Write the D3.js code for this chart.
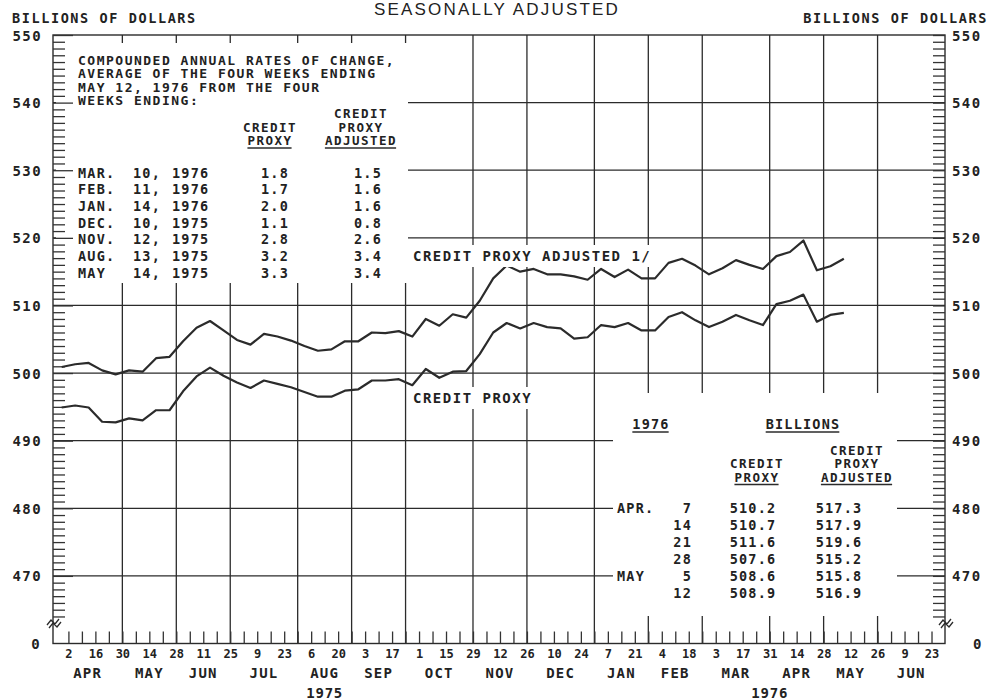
<!DOCTYPE html>
<html>
<head>
<meta charset="utf-8">
<title>Credit proxy</title>
<script src="https://cdn.jsdelivr.net/npm/d3@7"></script>
<style>
  body { margin: 0; background: #fff; }
  svg text { font-family: "DejaVu Sans Mono", monospace; font-weight: bold; fill: #222; }
  .tk line { stroke: #333; stroke-width: 1.3; }
</style>
</head>
<body>
<svg id="chart" width="992" height="700"></svg>
<script>
// weekly averages, week ending Wednesday
var weekEnding = ["1975-04-02","1975-04-09","1975-04-16","1975-04-23","1975-04-30","1975-05-07","1975-05-14",
  "1975-05-21","1975-05-28","1975-06-04","1975-06-11","1975-06-18","1975-06-25","1975-07-02","1975-07-09",
  "1975-07-16","1975-07-23","1975-07-30","1975-08-06","1975-08-13","1975-08-20","1975-08-27","1975-09-03",
  "1975-09-10","1975-09-17","1975-09-24","1975-10-01","1975-10-08","1975-10-15","1975-10-22","1975-10-29",
  "1975-11-05","1975-11-12","1975-11-19","1975-11-26","1975-12-03","1975-12-10","1975-12-17","1975-12-24",
  "1975-12-31","1976-01-07","1976-01-14","1976-01-21","1976-01-28","1976-02-04","1976-02-11","1976-02-18",
  "1976-02-25","1976-03-03","1976-03-10","1976-03-17","1976-03-24","1976-03-31","1976-04-07","1976-04-14",
  "1976-04-21","1976-04-28","1976-05-05","1976-05-12"];

var creditProxy = [494.9, 495.2, 494.9, 492.8, 492.7, 493.3, 493.0, 494.5, 494.5, 497.3,
  499.5, 500.8, 499.6, 498.6, 497.8, 498.9, 498.4, 497.9, 497.2, 496.5,
  496.5, 497.4, 497.6, 498.9, 498.9, 499.1, 498.2, 500.6, 499.3, 500.2,
  500.3, 502.8, 506.0, 507.4, 506.6, 507.4, 506.8, 506.6, 505.1, 505.3,
  507.1, 506.8, 507.4, 506.3, 506.3, 508.3, 509.0, 507.8, 506.8, 507.6,
  508.6, 507.8, 507.1, 510.2, 510.7, 511.6, 507.6, 508.6, 508.9];

var creditProxyAdjusted = [500.9, 501.3, 501.5, 500.4, 499.8, 500.4, 500.2, 502.2, 502.4, 504.7,
  506.7, 507.7, 506.3, 504.9, 504.2, 505.8, 505.4, 504.8, 504.0, 503.3,
  503.5, 504.7, 504.7, 506.0, 505.9, 506.2, 505.4, 508.0, 507.0, 508.7,
  508.2, 510.7, 514.0, 515.9, 515.0, 515.4, 514.6, 514.6, 514.3, 513.8,
  515.4, 514.2, 515.3, 514.0, 514.0, 516.3, 516.9, 515.9, 514.6, 515.5,
  516.7, 516.0, 515.4, 517.3, 517.9, 519.6, 515.2, 515.8, 516.9];

// month boundaries (last Wednesday of each month) and month names
var monthEnds = ["1975-04-30","1975-05-28","1975-06-25","1975-07-30","1975-08-27","1975-09-24","1975-10-29",
  "1975-11-26","1975-12-31","1976-01-28","1976-02-25","1976-03-31","1976-04-28","1976-05-26"];
var monthNames = ["APR","MAY","JUN","JUL","AUG","SEP","OCT","NOV","DEC","JAN","FEB","MAR","APR","MAY","JUN"];
var years = ["1975", "1976"];
var yearAt = ["1975-08-13", "1976-03-31"];

// y axis tick labels
var yLabelValues = [460, 470, 480, 490, 500, 510, 520, 530, 540, 550];

// upper-left table: annual rates of change
var rateNote = ["COMPOUNDED ANNUAL RATES OF CHANGE,", "AVERAGE OF THE FOUR WEEKS ENDING",
  "MAY 12, 1976 FROM THE FOUR", "WEEKS ENDING:"];
var rateMonths = ["MAR.", "FEB.", "JAN.", "DEC.", "NOV.", "AUG.", "MAY"];
var rateDays = ["10,", "11,", "14,", "10,", "12,", "13,", "14,"];
var rateYears = ["1976", "1976", "1976", "1975", "1975", "1975", "1975"];
var rateProxy = ["1.8", "1.7", "2.0", "1.1", "2.8", "3.2", "3.3"];
var rateAdjusted = ["1.5", "1.6", "1.6", "0.8", "2.6", "3.4", "3.4"];

// lower-right table: levels, billions
var levelMonths = ["APR.", "", "", "", "MAY", ""];
var levelDays = ["7", "14", "21", "28", "5", "12"];
var levelProxy = ["510.2", "510.7", "511.6", "507.6", "508.6", "508.9"];
var levelAdjusted = ["517.3", "517.9", "519.6", "515.2", "515.8", "516.9"];

var svg = d3.select("#chart");
var parse = d3.timeParse("%Y-%m-%d");
var plotL = 53, plotR = 945, plotT = 35, plotB = 643.5;
var ink = "#2b2b2b";

var x = d3.scaleTime().domain([parse("1975-03-25"), parse("1976-06-30")]).range([plotL, plotR]);
var y = d3.scaleLinear().domain([460, 550]).range([plotB, plotT]);

// weekly averages are plotted in the middle of their week
function midWeek(d) { return new Date(d.getTime() - 3.5 * 864e5); }

svg.append("rect").attr("width", 992).attr("height", 700).attr("fill", "#fff");

// grid
var grid = svg.append("g").attr("stroke", ink).attr("stroke-width", 1.3);
grid.selectAll(".h").data(d3.range(470, 550, 10)).join("line")
  .attr("x1", plotL).attr("x2", plotR)
  .attr("y1", function(d) { return y(d); }).attr("y2", function(d) { return y(d); });
grid.selectAll(".v").data(monthEnds).join("line")
  .attr("x1", function(d) { return x(parse(d)); }).attr("x2", function(d) { return x(parse(d)); })
  .attr("y1", plotT).attr("y2", plotB);

// blank areas behind the tables
var knock = svg.append("g").attr("fill", "#fff");
knock.append("rect").attr("x", 56).attr("y", 43).attr("width", 408 - 56).attr("height", 283 - 43);
knock.append("rect").attr("x", 613).attr("y", 393).attr("width", 897 - 613).attr("height", 616 - 393);

// frame
svg.append("rect").attr("x", plotL).attr("y", plotT).attr("width", plotR - plotL).attr("height", plotB - plotT)
  .attr("fill", "none").attr("stroke", ink).attr("stroke-width", 1.4);

// y ticks, inside on both sides
var minorValues = d3.range(464, 551);
svg.append("g").attr("class", "tk").attr("transform", "translate(" + plotL + ",0)")
  .call(d3.axisRight(y).tickValues(minorValues).tickSize(12).tickFormat(""))
  .call(function(g) { g.select(".domain").remove(); })
  .call(function(g) { g.selectAll(".tick line").attr("x2", function(d) { return d % 10 === 0 ? 20 : 12; }); });
svg.append("g").attr("class", "tk").attr("transform", "translate(" + plotR + ",0)")
  .call(d3.axisLeft(y).tickValues(minorValues).tickSize(12).tickFormat(""))
  .call(function(g) { g.select(".domain").remove(); });

// y labels
svg.append("g").attr("transform", "translate(" + plotL + ",0)")
  .call(d3.axisLeft(y).tickValues(yLabelValues).tickSize(0).tickPadding(11)
    .tickFormat(function(d) { return d === 460 ? "0" : d; }))
  .call(function(g) { g.select(".domain").remove(); })
  .call(function(g) {
    g.selectAll("text").attr("dy", "0.36em").style("font-size", "14px").style("letter-spacing", "1.4px");
    g.selectAll(".tick").filter(function(d) { return d === 460; }).select("text").attr("x", -12);
  });
svg.append("g").attr("transform", "translate(" + plotR + ",0)")
  .call(d3.axisRight(y).tickValues(yLabelValues).tickSize(0).tickPadding(7)
    .tickFormat(function(d) { return d === 460 ? "0" : d; }))
  .call(function(g) { g.select(".domain").remove(); })
  .call(function(g) {
    g.selectAll("text").attr("dy", "0.36em").style("font-size", "14px").style("letter-spacing", "1.4px");
    g.selectAll(".tick").filter(function(d) { return d === 460; }).select("text").attr("x", 28);
  });

// axis break marks
[plotL, plotR].forEach(function(ax) {
  svg.append("path")
    .attr("d", "M" + (ax - 6) + ",625 l4,-5 l4,4 l4,-5 M" + (ax - 4) + ",628 l4,-5 l4,4 l4,-5")
    .attr("fill", "none").attr("stroke", ink).attr("stroke-width", 1.3);
});

// weekly ticks on the time axis
var weeks = d3.timeWednesday.range(parse("1975-04-01"), parse("1976-06-24"));
svg.append("g").attr("class", "tk").attr("transform", "translate(0," + plotB + ")")
  .call(d3.axisTop(x).tickValues(weeks).tickSize(12).tickFormat(""))
  .call(function(g) { g.select(".domain").remove(); });

svg.append("g").attr("transform", "translate(0," + plotB + ")")
  .call(d3.axisBottom(x).tickValues(weeks.filter(function(d, i) { return i % 2 === 0; }))
    .tickSize(0).tickPadding(6).tickFormat(d3.timeFormat("%-d")))
  .call(function(g) { g.select(".domain").remove(); })
  .call(function(g) { g.selectAll("text").style("font-size", "12px"); });

// month names centred in their month
var bounds = [x.domain()[0]].concat(monthEnds.map(parse), [x.domain()[1]]);
svg.append("g").selectAll("text").data(monthNames).join("text")
  .attr("x", function(d, i) { return (x(bounds[i]) + x(bounds[i + 1])) / 2; })
  .attr("y", 678).attr("text-anchor", "middle")
  .style("font-size", "14px").style("letter-spacing", "1.2px")
  .text(function(d) { return d; });
svg.append("g").selectAll("text").data(years).join("text")
  .attr("x", function(d, i) { return x(parse(yearAt[i])); })
  .attr("y", 698).attr("text-anchor", "middle")
  .style("font-size", "14px").style("letter-spacing", "0.8px")
  .text(function(d) { return d; });

// data lines
var line = d3.line()
  .x(function(d) { return x(midWeek(d.date)); })
  .y(function(d) { return y(d.value); });
[creditProxy, creditProxyAdjusted].forEach(function(series) {
  var pts = series.map(function(v, i) { return { date: parse(weekEnding[i]), value: v }; });
  svg.append("path").datum(pts).attr("d", line)
    .attr("fill", "none").attr("stroke", ink).attr("stroke-width", 2.2)
    .attr("stroke-linejoin", "round");
});

// text helper
function txt(str, px, py, anchor, size, spacing, underline) {
  var t = svg.append("text").attr("x", px).attr("y", py).attr("text-anchor", anchor || "start")
    .style("font-size", (size || 13.5) + "px").style("letter-spacing", (spacing == null ? 1.2 : spacing) + "px")
    .text(str);
  if (underline) {
    var b = t.node().getBBox();
    svg.append("line").attr("x1", b.x).attr("x2", b.x + b.width - 1)
      .attr("y1", py + 3).attr("y2", py + 3).attr("stroke", ink).attr("stroke-width", 1.4);
  }
  return t;
}

// line labels with a blank behind them
function lineLabel(str, px, py) {
  var t = txt(str, px, py, "start", 14, 1.5);
  var b = t.node().getBBox();
  svg.insert("rect", function() { return t.node(); }).attr("x", b.x - 3).attr("y", b.y - 3)
    .attr("width", b.width + 6).attr("height", b.height + 6).attr("fill", "#fff");
}
lineLabel("CREDIT PROXY ADJUSTED 1/", 413, 261);
lineLabel("CREDIT PROXY", 413, 403);

// headings
txt("BILLIONS OF DOLLARS", 12, 23, "start", 13.5, 1.6);
txt("BILLIONS OF DOLLARS", 988, 23, "end", 13.5, 1.6);
svg.append("text").attr("x", 497).attr("y", 15).attr("text-anchor", "middle")
  .style("font-family", "'Liberation Sans', Arial, sans-serif").style("font-weight", "normal")
  .style("font-size", "17px").style("letter-spacing", "2.2px")
  .text("SEASONALLY ADJUSTED");

// upper-left table
rateNote.forEach(function(s, i) { txt(s, 78, 65 + i * 13.4, "start", 13, 1.5); });
txt("CREDIT", 361, 118, "middle", 12.5, 1.5);
txt("CREDIT", 270, 131.5, "middle", 12.5, 1.5);
txt("PROXY", 361, 131.5, "middle", 12.5, 1.5);
txt("PROXY", 270, 145, "middle", 12.5, 1.5, true);
txt("ADJUSTED", 361, 145, "middle", 12.5, 1.5, true);
rateMonths.forEach(function(m, i) {
  var by = 177.5 + i * 16.7;
  txt(m, 78, by);
  txt(rateDays[i], 133, by);
  txt(rateYears[i], 172, by);
  txt(rateProxy[i], 275, by, "middle");
  txt(rateAdjusted[i], 368, by, "middle");
});

// lower-right table
txt("1976", 651, 429, "middle", null, null, true);
txt("BILLIONS", 803, 429, "middle", null, null, true);
txt("CREDIT", 857, 454.5, "middle", 12.5, 1.5);
txt("CREDIT", 757, 468, "middle", 12.5, 1.5);
txt("PROXY", 857, 468, "middle", 12.5, 1.5);
txt("PROXY", 757, 481.5, "middle", 12.5, 1.5, true);
txt("ADJUSTED", 857, 481.5, "middle", 12.5, 1.5, true);
levelDays.forEach(function(d, i) {
  var by = 513 + i * 16.9;
  if (levelMonths[i]) txt(levelMonths[i], 617, by);
  txt(d, 692, by, "end");
  txt(levelProxy[i], 753, by, "middle");
  txt(levelAdjusted[i], 839, by, "middle");
});
</script>
</body>
</html>
